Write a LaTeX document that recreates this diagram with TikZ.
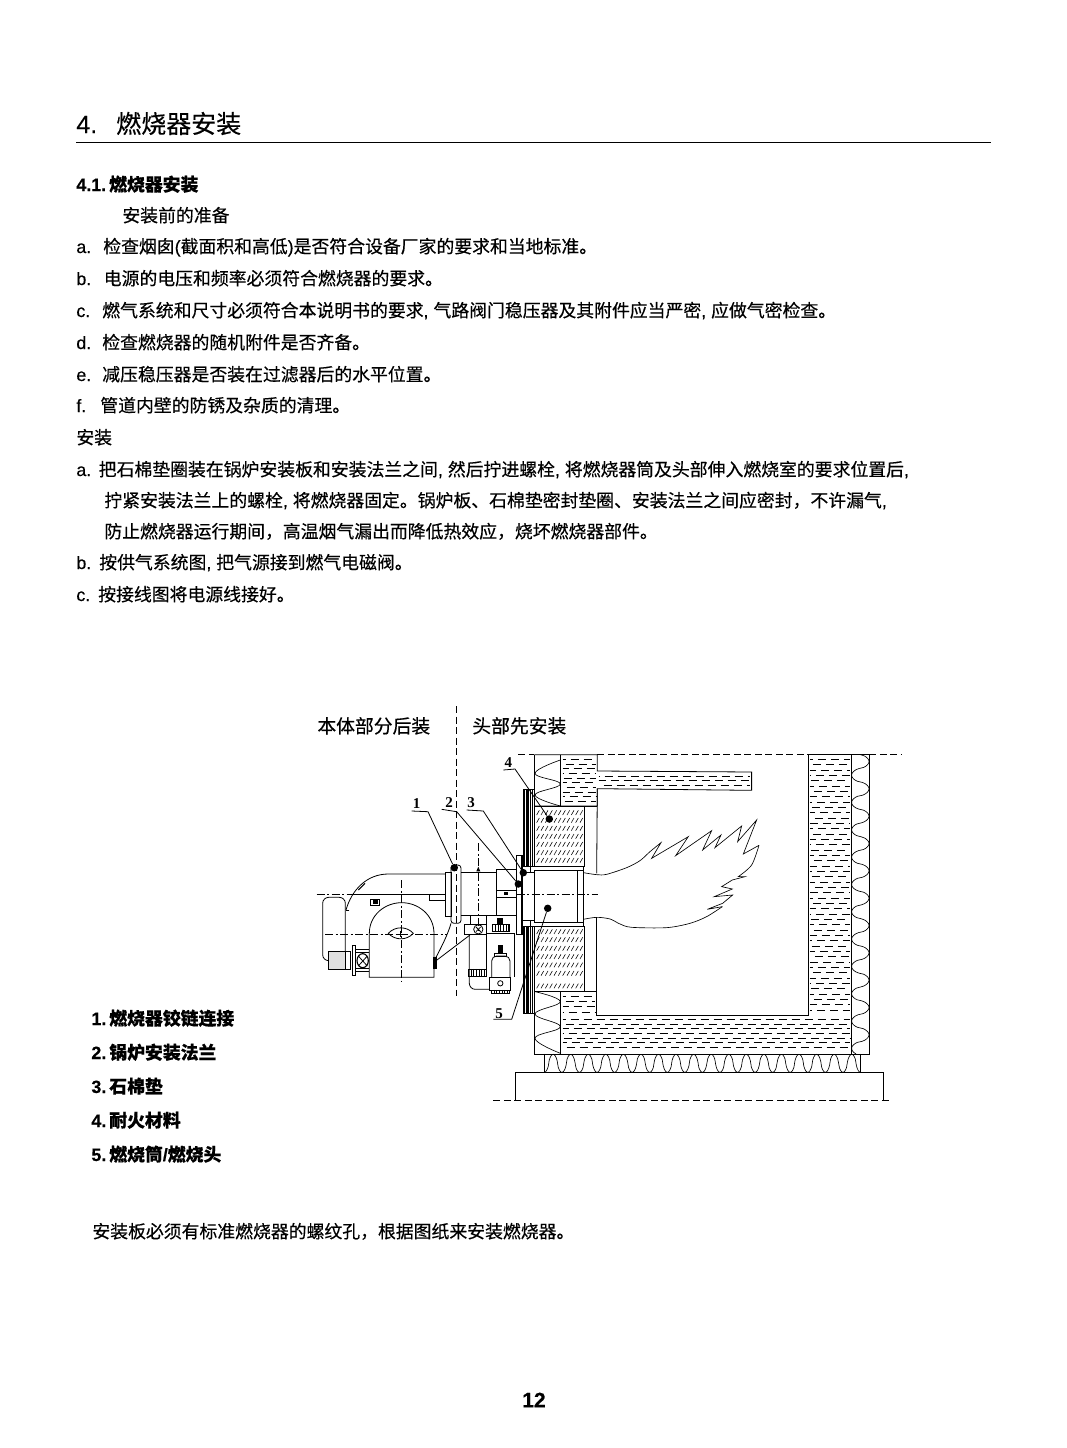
\documentclass[tikz,border=0pt]{standalone}
\usepackage{fontspec}
\setmainfont{Noto Sans CJK SC}[FakeBold=.35]
\newfontfamily\ltn{Liberation Sans}[FakeBold=.25]
\newfontfamily\numfont{Liberation Serif}
\begin{document}
\begin{tikzpicture}[x=1pt, y=-1pt, line width=.8pt,
    txtline/.style={anchor=base west, inner sep=0pt, font=\fontsize{17.85}{18}\selectfont},
    boldline/.style={txtline, font=\fontsize{17.85}{18}\selectfont\bfseries},
    partnum/.style={inner sep=0pt, font=\numfont\bfseries\fontsize{15}{15}\selectfont},
    partdot/.style={circle, fill=black, inner sep=0pt, minimum size=7.5pt},
    centreline/.style={dash pattern=on 8pt off 2.5pt on 2pt off 2.5pt, line width=.6pt},
    longdash/.style={dash pattern=on 7pt off 3.5pt, line width=.7pt},
    castdash/.style={dash pattern=on 8pt off 5pt, line width=.45pt},
    slashmark/.style={line width=.55pt},
    wavy/.style={line width=.65pt},
    burnview/.style={shift={(310,850)}, x=.3333pt, y=-.3333pt},
    furnview/.style={shift={(500,740)}, x=.3333pt, y=-.3333pt}]
    \useasboundingbox (0,0) rectangle (1067,1448);
    \fill[white] (0,0) rectangle (1067,1448);

    % heading
    \node [txtline, font=\fontsize{25}{26}\selectfont] (title) at (76,133) {{\ltn 4.}\hspace{19pt}燃烧器安装};
    \draw (76,142.5) -- (991,142.5);
    \node [boldline] (sec) at (76,191) {{\ltn\bfseries 4.1.}\hspace{3pt}燃烧器安装};

    % preparation
    \node [txtline] (pre) at (122,222) {安装前的准备};
    \node [txtline] (prea) at (76,253) {{\ltn a.}\hspace{12pt}检查烟囱{\ltn(}截面积和高低{\ltn)}是否符合设备厂家的要求和当地标准。};
    \node [txtline] (preb) at (76,285) {{\ltn b.}\hspace{12.5pt}电源的电压和频率必须符合燃烧器的要求。};
    \node [txtline] (prec) at (76,317) {{\ltn c.}\hspace{12pt}燃气系统和尺寸必须符合本说明书的要求{\ltn, }气路阀门稳压器及其附件应当严密{\ltn, }应做气密检查。};
    \node [txtline] (pred) at (76,349) {{\ltn d.}\hspace{11pt}检查燃烧器的随机附件是否齐备。};
    \node [txtline] (pree) at (76,381) {{\ltn e.}\hspace{11pt}减压稳压器是否装在过滤器后的水平位置。};
    \node [txtline] (pref) at (76,412) {{\ltn f.}\hspace{14pt}管道内壁的防锈及杂质的清理。};

    % mounting
    \node [txtline] (mnt) at (76,444) {安装};
    \node [txtline] (mnta) at (76,476) {{\ltn a.}\hspace{7.5pt}把石棉垫圈装在锅炉安装板和安装法兰之间{\ltn, }然后拧进螺栓{\ltn, }将燃烧器筒及头部伸入燃烧室的要求位置后{\ltn,}};
    \node [txtline] (mntb) at (104,507) {拧紧安装法兰上的螺栓{\ltn, }将燃烧器固定。锅炉板、石棉垫密封垫圈、安装法兰之间应密封，不许漏气{\ltn,}};
    \node [txtline] (mntc) at (104,538) {防止燃烧器运行期间，高温烟气漏出而降低热效应，烧坏燃烧器部件。};
    \node [txtline] (mntd) at (76,569) {{\ltn b.}\hspace{8pt}按供气系统图{\ltn, }把气源接到燃气电磁阀。};
    \node [txtline] (mnte) at (76,601) {{\ltn c.}\hspace{8pt}按接线图将电源线接好。};

    % captions above the drawing
    \node [txtline, font=\fontsize{18.8}{19}\selectfont] (later) at (317,733) {本体部分后装};
    \node [txtline, font=\fontsize{18.8}{19}\selectfont] (first) at (472,733) {头部先安装};

    % furnace
    \begin{scope}[furnview]
        \draw[longdash] (55,44) -- (103,44);
        \draw[longdash] (292,44) -- (925,44);
        \draw[longdash] (1108,44) -- (1205,44);
        \draw[longdash] (-20,1080) -- (1175,1080);
        \draw (103,44) -- (292,44) -- (292,93) -- (755,96) -- (755,151) -- (292,146) -- (292,198) -- (103,198);
        \draw (103,44) -- (103,147);
        \draw (181,44) -- (181,198);
        \draw (925,44) -- (1108,44) -- (1108,942) -- (103,942) -- (103,820);
        \draw (103,755) -- (290,755) -- (290,826) -- (925,826) -- (925,44);
        \draw (1055,44) -- (1055,942);
        \draw (181,755) -- (181,942);
        \draw (133,942) -- (133,998);
        \draw (1081,942) -- (1081,998);
        \draw (46,1080) -- (46,998) -- (1150,998) -- (1150,1080);
        \draw (103,198) rectangle (252,380);
        \draw (103,560) rectangle (252,755);
        \draw (252,198) -- (292,198);
        \draw (292,146) -- (290,400);
        \draw (290,532) -- (290,755);
        \draw[line width=1.1pt] (253,640) -- (253,755);
        % castable fill
        \foreach \y [count=\n] in {58,72,...,190} \draw[castdash, dash phase=5*\n pt] (188,\y) -- (288,\y);
        \foreach \y [count=\n] in {108,122,136} \draw[castdash, dash phase=7*\n pt] (296,\y) -- (750,\y);
        \foreach \y [count=\n] in {58,74,...,815} \draw[castdash, dash phase=5*\n pt] (930,\y) -- (1050,\y);
        \foreach \y [count=\n] in {768,784,...,816} \draw[castdash, dash phase=5*\n pt] (188,\y) -- (286,\y);
        \foreach \y [count=\n] in {838,852,...,934} \draw[castdash, dash phase=5*\n pt] (188,\y) -- (1050,\y);
        % refractory marks
        \foreach \y in {225,248,272,296,320,345,368}
            \foreach \x in {110,123,...,240} \draw[slashmark] (\x,\y) -- ++(8,-14);
        \foreach \y in {582,606,632,657,682,707,745}
            \foreach \x in {110,123,...,240} \draw[slashmark] (\x,\y) -- ++(8,-14);
        % fibre
        \draw[wavy] plot[smooth, tension=.7] coordinates {(181,60) (105,100) (181,132) (105,165) (181,198)};
        \draw[wavy] plot[smooth, tension=.7] coordinates {(105,755) (181,785) (105,822) (181,860) (105,895) (181,940)};
        \draw[wavy] plot[smooth, domain=44:942, samples=260] ({1081+26*sign(sin((\x-44)/82*360))*pow(abs(sin((\x-44)/82*360))+.0001,.6)},\x);
        \draw[wavy] plot[smooth, domain=133:1081, samples=320] (\x,{970+27*sign(cos((\x-133)/52.7*360))*pow(abs(cos((\x-133)/52.7*360))+.0001,.6)});
        % gasket
        \draw (70,147) rectangle (103,380);
        \draw (70,560) rectangle (103,820);
        \foreach \x in {74,78,82,86,91,96} {
            \draw[line width=.8pt] (\x,147) -- (\x,380);
            \draw[line width=.8pt] (\x,560) -- (\x,820);
        }
        % combustion head
        \draw (103,392) rectangle (250,548);
        \draw (232,392) -- (232,548);
        \draw (90,380) -- (250,380) -- (250,392);
        \draw (90,558) -- (250,558) -- (250,548);
        \draw (68,398) -- (103,398);
        \draw (68,542) -- (103,542);
        \draw (90,380) -- (90,398);
        \draw (90,542) -- (90,558);
        \draw[line width=1.2pt] (104,432) -- (104,458);
        % flame
        \draw[wavy] plot[smooth, tension=.5] coordinates {(250,398) (290,404) (320,403) (380,383) (420,362) (450,335) (483,308)}
            -- (455,355) -- (565,290) -- (527,347) -- (635,272) -- (608,330) -- (663,285) -- (645,323) -- (725,258) -- (713,305) -- (770,240) -- (730,342) -- (777,316);
        \draw[wavy] plot[smooth, tension=.5] coordinates {(777,316) (755,375) (715,410)}
            -- (735,410) -- (697,420) -- (665,440) -- (697,447) -- (643,470) -- (698,465) -- (668,490) -- (622,508) -- (667,500);
        \draw[wavy] plot[smooth, tension=.5] coordinates {(667,500) (620,530) (570,550) (500,563) (395,562) (360,552) (330,537) (290,532) (250,538)};
    \end{scope}

    % burner
    \begin{scope}[burnview]
        % shaft and gun
        \draw (405,68) rectangle (423,200);
        \draw[rounded corners=3pt] (423,45) rectangle (453,220);
        \draw (453,68) -- (558,68);
        \draw (453,195) -- (558,195);
        \draw (558,58) rectangle (618,195);
        \draw (558,120) -- (618,120);
        \draw (558,142) -- (618,142);
        \fill (582,126) rectangle (594,136);
        \draw (618,15) rectangle (638,253);
        \draw[line width=1.7pt] (636,15) -- (636,253);
        \fill (505,50) -- (499,64) -- (511,64) -- cycle;
        % fan casing
        \draw[rounded corners=6pt] (38,142) rectangle (106,332);
        \draw (108,180) .. controls (125,120) and (170,72) .. (235,72) -- (405,72);
        \draw[line width=1.1pt] (145,120) -- (165,100);
        \draw (118,180) -- (108,180);
        \draw[line width=1pt] (130,133) -- (405,133);
        \draw (405,133) -- (358,133) -- (358,152) -- (405,152) -- (405,200);
        \draw (180,148) rectangle (207,166);
        \fill (190,151) rectangle (204,162);
        \draw (178,250) .. controls (178,195) and (225,158) .. (275,158) .. controls (325,158) and (372,195) .. (372,250) -- (372,382) -- (178,382) -- cycle;
        \draw (235,250) .. controls (255,228) and (290,228) .. (310,250) .. controls (290,272) and (255,272) .. (235,250) -- cycle;
        \draw (272,242) -- (272,260);
        \draw (264,252) -- (281,252);
        % motor side
        \draw[fill=black!12] (55,305) rectangle (105,358);
        \draw (105,305) rectangle (120,358);
        \draw (127,287) rectangle (137,376);
        \draw (137,298) -- (178,298);
        \draw (137,364) -- (178,364);
        \draw (137,308) -- (178,308);
        \draw (137,354) -- (178,354);
        \draw[line width=1.1pt] (158,332) ellipse (17 and 21);
        \draw (145,318) -- (172,348);
        \draw (172,318) -- (145,348);
        % gas train
        \draw (480,195) -- (480,223);
        \draw (530,195) -- (530,223);
        \draw (463,223) rectangle (530,253);
        \draw (505,238) circle (14);
        \draw (498,231) -- (512,245);
        \draw (512,231) -- (498,245);
        \draw[rounded corners=6pt] (478,253) -- (478,418) -- (538,418);
        \draw (530,253) -- (530,380);
        \draw (530,250) -- (612,250) -- (612,382);
        \draw (475,357) rectangle (530,378);
        \foreach \x in {483,491,...,527} \draw (\x,357) -- (\x,378);
        \draw (548,222) rectangle (598,243);
        \foreach \x in {556,564,...,596} \draw (\x,222) -- (\x,243);
        \fill (560,205) rectangle (578,222);
        \draw[rounded corners=5pt] (545,382) -- (545,318) -- (600,318) -- (600,382);
        \fill (565,285) rectangle (578,310);
        \draw (553,310) rectangle (590,318);
        \draw (538,382) rectangle (602,420);
        \draw (571,400) circle (8);
        \draw (545,420) rectangle (598,430);
        \foreach \x in {552,560,...,596} \draw (\x,420) -- (\x,430);
        % connecting lines
        \fill (370,322) rectangle (381,357);
        \draw (378,322) .. controls (395,290) and (415,250) .. (423,220);
        \draw (381,330) -- (480,255);
        % centre lines
        \draw[centreline] (275,90) -- (275,392);
        \draw[centreline] (45,253) -- (410,253);
        \draw[centreline] (20,133) -- (130,133);
        \draw[centreline] (505,-20) -- (505,250);
        \draw[centreline] (620,133) -- (865,133);
        \draw[longdash] (438,-432) -- (438,438);
    \end{scope}

    % part numbers
    \node [partnum] (num1) at (416.7,804) {1};
    \node [partnum] (num2) at (449,803) {2};
    \node [partnum] (num3) at (471,803) {3};
    \node [partnum] (num4) at (508.3,763) {4};
    \node [partnum] (num5) at (499,1014) {5};
    \coordinate (tail1) at (411.7,811);
    \coordinate (knee1) at (428,811.7);
    \coordinate (tail2) at (441.7,809.3);
    \coordinate (knee2) at (456.7,811.7);
    \coordinate (tail3) at (466.7,810);
    \coordinate (knee3) at (483.3,811);
    \coordinate (tail4) at (503.3,770);
    \coordinate (knee4) at (515,769);
    \coordinate (tail5) at (493.3,1019.3);
    \coordinate (knee5) at (511.7,1019.3);
    \node [partdot] (dot1) at (454.3,867.7) {};
    \node [partdot] (dot2) at (518.3,884) {};
    \node [partdot] (dot3) at (523.3,872.7) {};
    \node [partdot] (dot4) at (549.3,819) {};
    \node [partdot] (dot5) at (547.7,908.3) {};
    \draw (tail1) -- (knee1) -- (dot1);
    \draw (tail2) -- (knee2) -- (dot2);
    \draw (tail3) -- (knee3) -- (dot3);
    \draw (tail4) -- (knee4) -- (dot4);
    \draw (tail5) -- (knee5) -- (dot5);

    % legend
    \node [boldline] (leg1) at (91,1025) {{\ltn\bfseries 1.}\hspace{3pt}燃烧器铰链连接};
    \node [boldline] (leg2) at (91,1059) {{\ltn\bfseries 2.}\hspace{3pt}锅炉安装法兰};
    \node [boldline] (leg3) at (91,1093) {{\ltn\bfseries 3.}\hspace{3pt}石棉垫};
    \node [boldline] (leg4) at (91,1127) {{\ltn\bfseries 4.}\hspace{3pt}耐火材料};
    \node [boldline] (leg5) at (91,1161) {{\ltn\bfseries 5.}\hspace{3pt}燃烧筒{\ltn\bfseries /}燃烧头};
    \node [txtline] (note) at (92,1238) {安装板必须有标准燃烧器的螺纹孔，根据图纸来安装燃烧器。};
    \node [inner sep=0pt, font=\ltn\bfseries\fontsize{21}{21}\selectfont] (page) at (534,1400) {12};
\end{tikzpicture}
\end{document}
